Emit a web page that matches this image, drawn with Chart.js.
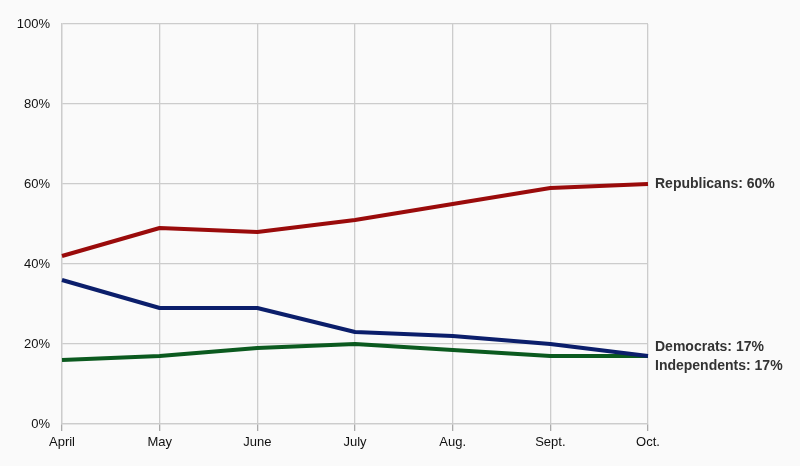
<!DOCTYPE html>
<html>
<head>
<meta charset="utf-8">
<script src="https://cdn.jsdelivr.net/npm/chart.js@4"></script>
<style>
  html, body { margin: 0; padding: 0; background: #fafafa; }
  #wrap { width: 800px; height: 466px; }
</style>
</head>
<body>
<div id="wrap"><canvas id="c" width="800" height="466"></canvas></div>
<script>
const months = ["April", "May", "June", "July", "Aug.", "Sept.", "Oct."];
const republicans = [42, 49, 48, 51, 55, 59, 60];
const democrats = [36, 29, 29, 23, 22, 20, 17];
const independents = [16, 17, 19, 20, 18.5, 17, 17];
const yTicks = [0, 20, 40, 60, 80, 100];
const endLabels = ["Republicans: 60%", "Democrats: 17%", "Independents: 17%"];

const endLabelPlugin = {
  id: 'endLabels',
  afterDatasetsDraw(chart) {
    const ctx = chart.ctx;
    const x = chart.scales.x.getPixelForValue(months.length - 1) + 7;
    ctx.save();
    ctx.font = 'bold 14px "Liberation Sans", Arial, sans-serif';
    ctx.fillStyle = '#333333';
    ctx.textAlign = 'left';
    ctx.textBaseline = 'middle';
    const yR = chart.scales.y.getPixelForValue(republicans[republicans.length - 1]);
    const yD = chart.scales.y.getPixelForValue(democrats[democrats.length - 1]);
    const yI = chart.scales.y.getPixelForValue(independents[independents.length - 1]);
    ctx.fillText(endLabels[0], x, yR);
    ctx.fillText(endLabels[1], x, yD - 9);
    ctx.fillText(endLabels[2], x, yI + 10);
    ctx.restore();
  }
};

const bgPlugin = {
  id: 'bg',
  beforeDraw(chart) {
    const ctx = chart.ctx;
    ctx.save();
    ctx.fillStyle = '#fafafa';
    ctx.fillRect(0, 0, chart.width, chart.height);
    ctx.restore();
  }
};

new Chart(document.getElementById('c'), {
  type: 'line',
  data: {
    labels: months,
    datasets: [
      { label: 'Republicans', data: republicans, borderColor: '#9a0b0b', borderWidth: 4 },
      { label: 'Democrats', data: democrats, borderColor: '#0b1e6b', borderWidth: 4 },
      { label: 'Independents', data: independents, borderColor: '#0b5a1f', borderWidth: 4 }
    ]
  },
  options: {
    responsive: false,
    animation: false,
    devicePixelRatio: 1,
    layout: { padding: { top: 24, right: 152, left: 0, bottom: 0 } },
    elements: { point: { radius: 0 }, line: { tension: 0, borderJoinStyle: 'round', borderCapStyle: 'butt' } },
    plugins: { legend: { display: false }, tooltip: { enabled: false } },
    scales: {
      x: {
        offset: false,
        grid: { color: '#cccccc', lineWidth: 1.3, tickLength: 7, drawTicks: true, tickColor: '#aaaaaa' },
        border: { color: '#cccccc', width: 1.3 },
        ticks: {
          color: '#111111',
          padding: 4,
          maxRotation: 0,
          autoSkip: false,
          font: { family: '"Liberation Sans", Arial, sans-serif', size: 13 }
        },
        afterFit(scale) { scale.height = 42; }
      },
      y: {
        min: 0,
        max: 100,
        afterBuildTicks(scale) { scale.ticks = yTicks.map(v => ({ value: v })); },
        grid: { color: '#cccccc', lineWidth: 1.3, drawTicks: false },
        border: { color: '#cccccc', width: 1.3 },
        ticks: {
          color: '#111111',
          padding: 12,
          font: { family: '"Liberation Sans", Arial, sans-serif', size: 13 },
          callback: v => v + '%'
        },
        afterFit(scale) { scale.width = 62; }
      }
    }
  },
  plugins: [bgPlugin, endLabelPlugin]
});
</script>
</body>
</html>
